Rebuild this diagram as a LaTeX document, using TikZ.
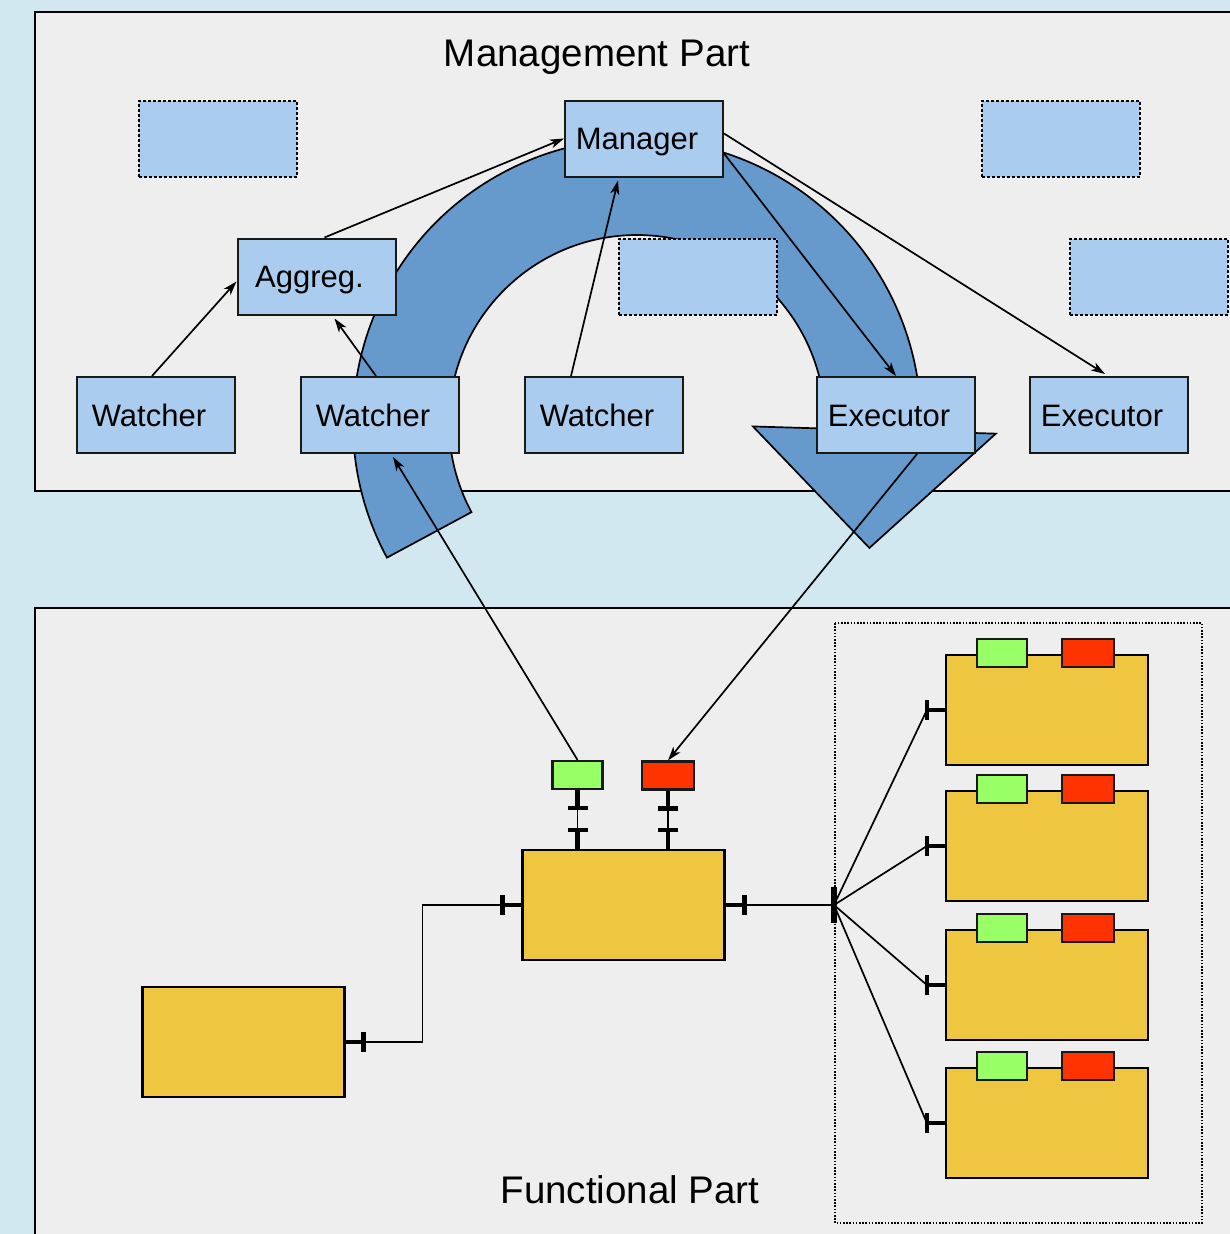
\documentclass[tikz,border=0pt]{standalone}
\usepackage{fontspec}
\setmainfont{Liberation Sans}
\usetikzlibrary{calc,arrows.meta}
\definecolor{bgblue}{RGB}{209,232,240}
\definecolor{panel}{RGB}{238,238,238}
\definecolor{boxblue}{RGB}{170,204,238}
\definecolor{arcblue}{RGB}{102,153,204}
\definecolor{yel}{RGB}{238,198,64}
\definecolor{pgreen}{RGB}{153,255,102}
\definecolor{pred}{RGB}{255,51,0}
\begin{document}
\begin{tikzpicture}[x=1pt,y=-1pt,
 bluebox/.style={draw=black!90, line width=2pt, fill=boxblue, minimum width=158pt, minimum height=76pt, inner sep=0pt, font=\fontsize{31}{36}\selectfont, text height=22pt, text depth=0pt, execute at end node={\hspace*{14pt}}},
 ghost/.style={draw=black, line width=2pt, dash pattern=on 3pt off 2pt, fill=boxblue, minimum width=158pt, minimum height=76pt, inner sep=0pt},
 ybox/.style={draw=black, line width=2.2pt, fill=yel, minimum width=202pt, minimum height=110pt, inner sep=0pt},
 gport/.style={draw=black!90, line width=2.2pt, fill=pgreen, minimum width=50pt, minimum height=28pt, inner sep=0pt},
 rport/.style={draw=black!90, line width=2.2pt, fill=pred, minimum width=52pt, minimum height=28pt, inner sep=0pt},
 conn/.style={draw=black, line width=1.7pt},
 arr/.style={conn, -{Stealth[length=14pt,width=9pt,inset=4pt]}},
 stub/.style={line width=4.5pt, draw=black},
 tbar/.style={line width=4.5pt, draw=black},
 title/.style={font=\fontsize{38.5}{44}\selectfont, anchor=base, inner sep=0pt},
]
\path[use as bounding box] (0,0) rectangle (1230,1234);
\clip (0,0) rectangle (1230,1234);
\fill[bgblue] (0,0) rectangle (1230,1234);
% panels
\filldraw[fill=panel, draw=black, line width=2.2pt] (35,12) rectangle (1250,491);
\filldraw[fill=panel, draw=black, line width=2.2pt] (35,608) rectangle (1250,1260);
\node[title] (mtitle) at (597,66) {Management Part};
\node[title] (ftitle) at (630,1203) {Functional Part};
% big cycle arrow
\coordinate (ac) at (637,423);
\coordinate (tip) at ($(ac)+(361.7:236)+(451.7:118)$);
\filldraw[fill=arcblue, draw=black, line width=1.7pt]
  ($(ac)+(151.7:284)$) arc[start angle=151.7, end angle=361.7, radius=284]
  -- ($(ac)+(361.7:359)$) -- (tip) -- ($(ac)+(361.7:116)$)
  -- ($(ac)+(361.7:188)$) arc[start angle=361.7, end angle=151.7, radius=188] -- cycle;
% management nodes
\node[ghost] (d1) at (217.5,138.5) {};
\node[bluebox] (mgr) at (644,138.5) {Manager};
\node[ghost] (d2) at (1060.5,138.5) {};
\node[bluebox] (ag) at (316.5,276.5) {Aggreg.};
\node[ghost] (d3) at (697.5,276.5) {};
\node[ghost] (d4) at (1148.5,276.5) {};
\node[bluebox] (w1) at (156,415) {Watcher};
\node[bluebox] (w2) at (380,415) {Watcher};
\node[bluebox] (w3) at (604,415) {Watcher};
\node[bluebox] (e1) at (896,415) {Executor};
\node[bluebox] (e2) at (1109,415) {Executor};
% management connectors
\draw[arr] ($(w1.north)+(-4,0)$) -- ($(ag.west)+(0,5)$);
\draw[arr] ($(w2.north)+(-4,0)$) -- ($(ag.south)+(18,3)$);
\draw[arr] ($(ag.north)+(8,0)$) -- (mgr.west);
\draw[arr] ($(w3.north)+(-33,0)$) -- ($(mgr.south)+(-26,3)$);
\draw[arr] ($(mgr.south east)+(0,-24)$) -- (e1.north);
\draw[arr] ($(mgr.east)+(0,-5)$) -- ($(e2.north)+(-4,-2)$);
% functional nodes
\draw[line width=1.6pt, dash pattern=on 1.6pt off 1.6pt] (835,623) rectangle (1202,1223);
\node[ybox] (c) at (623.5,905) {};
\node[ybox] (bl) at (243.5,1042) {};
\node[gport] (gp) at (577.5,775) {};
\node[rport] (rp) at (668,775.5) {};
\foreach \i/\y in {1/710,2/846,3/985,4/1123}{
  \node[ybox] (r\i) at (1047,\y) {};
  \node[gport] (g\i) at ($(r\i.north west)+(57,-1)$) {};
  \node[rport] (x\i) at ($(r\i.north west)+(143,-1)$) {};
}
% cross-part connectors
\draw[arr] (gp.north) -- ($(w2.south)+(13,3)$);
\draw[arr] ($(e1.south)+(21,0)$) -- (rp.north);
% port connectors with bars
\coordinate (gpb) at (gp.south |- c.north);
\coordinate (rpb) at (rp.south |- c.north);
\foreach \p/\q in {gp/gpb, rp/rpb}{
  \draw[conn] (\p.south) -- (\q);
  \draw[stub] (\p.south) -- ++(0,18);
  \draw[tbar] ($(\p.south)+(-10,18)$) -- ++(20,0);
  \draw[stub] (\q) -- ++(0,-19);
  \draw[tbar] ($(\q)+(-10,-19)$) -- ++(20,0);
}
% left connector
\draw[conn] (bl.east) -- ++(77,0) |- (c.west);
\draw[stub] (bl.east) -- ++(18,0);
\draw[tbar] ($(bl.east)+(18,-10)$) -- ++(0,20);
\draw[stub] (c.west) -- ++(-19,0);
\draw[tbar] ($(c.west)+(-19,-10)$) -- ++(0,20);
% right connector and hub
\coordinate (hub) at (834,905);
\draw[conn] (c.east) -- (hub);
\draw[stub] (c.east) -- ++(19,0);
\draw[tbar] ($(c.east)+(19,-10)$) -- ++(0,20);
\foreach \i in {1,2,3,4}{
  \draw[conn] (hub) -- ($(r\i.west)+(-18,0)$);
  \draw[stub] (r\i.west) -- ++(-18,0);
  \draw[tbar] ($(r\i.west)+(-18,-10)$) -- ++(0,20);
}
\draw[line width=6pt] ($(hub)+(0,-18)$) -- ++(0,36);
\end{tikzpicture}
\end{document}
